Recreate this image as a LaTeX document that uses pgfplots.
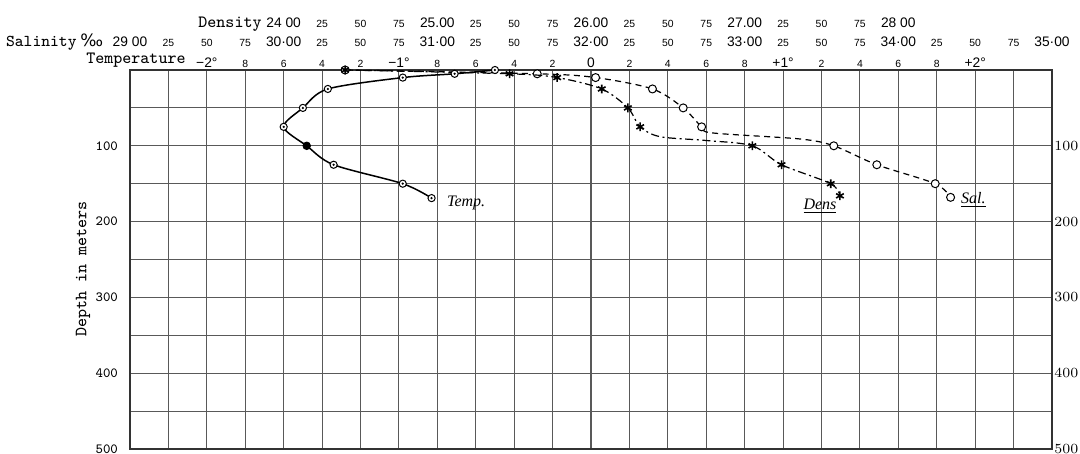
\documentclass[border=0pt]{standalone}
\usepackage{fontspec}
\setmainfont{Liberation Sans}
\newfontfamily\pmfont{DejaVu Sans}
\newfontfamily\hand{Liberation Serif}
\usepackage{pgfplots}
\pgfplotsset{compat=1.18}

% circle with a dot in it (temperature readings)
\pgfdeclareplotmark{odot}{%
  \pgfpathcircle{\pgfpointorigin}{\pgfplotmarksize}%
  \pgfsetfillcolor{white}\pgfusepathqfillstroke
  \pgfpathcircle{\pgfpointorigin}{0.35\pgfplotmarksize}%
  \pgfsetfillcolor{black}\pgfusepathqfill}

\newcommand\sm{\fontsize{5.2}{6}\selectfont}
\newcommand\bg[1]{{\fontsize{6.9}{7}\selectfont #1}}
\newcommand\tw{\ttfamily\fontsize{8.6}{10}\selectfont}

\pgfplotsset{
  base/.style={width=461pt, height=189.5pt, scale only axis,
    ymin=0, ymax=500, y dir=reverse, major tick length=0pt, clip=false},
}

\begin{document}
\begin{tikzpicture}
% salinity axis: carries the grid
\begin{axis}[base, name=sal,
  xmin=29, xmax=35,
  xtick={29,29.25,...,35},
  ytick={0,50,...,500},
  grid=major, grid style={black!65, line width=0.55pt},
  axis line style={black!80, line width=0.75pt},
  xticklabel pos=upper,
  xticklabels={\bg{29 00},25,50,75,\bg{30·00},25,50,75,\bg{31·00},25,50,75,\bg{32·00},25,50,75,\bg{33·00},25,50,75,\bg{34·00},25,50,75,\bg{35·00}},
  xticklabel style={anchor=base, yshift=11.5pt, font=\sm},
  yticklabels={,,100,,200,,300,,400,,500},
  yticklabel style={font=\ttfamily\fontsize{7}{8}\selectfont, xshift=-2.5pt},
]
\addplot[black, line width=0.6pt, dash pattern=on 3pt off 2.2pt, smooth, tension=0.5,
  mark=*, mark size=2pt, mark options={solid, fill=white, line width=0.5pt},
  mark indices={1,2,3,4,5,6,9,10,11,12}] coordinates {
  (30.40,0)(31.65,5)(32.03,10)(32.40,25)(32.60,50)(32.72,75)
  (32.79,83)(33.36,91)(33.58,100)(33.86,125)(34.24,150)(34.34,168)
};
\end{axis}

% density axis: top row of labels and right-hand depth labels
\begin{axis}[base, at={(sal.south west)}, anchor=south west,
  xmin=23, xmax=29,
  axis line style={draw=none},
  xtick={24,24.25,...,28},
  xticklabel pos=upper,
  xticklabels={\bg{24 00},25,50,75,\bg{25.00},25,50,75,\bg{26.00},25,50,75,\bg{27.00},25,50,75,\bg{28 00}},
  xticklabel style={anchor=base, yshift=21pt, font=\sm},
  ytick={100,200,...,500},
  yticklabel pos=right,
  yticklabel style={font=\ttfamily\fontsize{6.7}{8}\selectfont, inner sep=1pt},
]
\addplot[black, line width=0.6pt, dash pattern=on 4pt off 1.8pt on 1pt off 1.8pt, smooth, tension=0.5,
  mark=asterisk, mark size=2.2pt, mark options={solid, line width=0.8pt},
  mark indices={1,2,3,4,5,6,9,10,11,12}] coordinates {
  (24.40,0)(25.47,5)(25.78,10)(26.07,25)(26.24,50)(26.32,75)
  (26.45,88)(26.75,93)(27.05,100)(27.24,125)(27.56,150)(27.62,166)
};
\end{axis}

% temperature axis
\begin{axis}[base, at={(sal.south west)}, anchor=south west,
  xmin=-2.4, xmax=2.4,
  axis line style={draw=none},
  xtick={-2,-1.8,-1.6,-1.4,-1.2,-1,-0.8,-0.6,-0.4,-0.2,0,0.2,0.4,0.6,0.8,1,1.2,1.4,1.6,1.8,2},
  xticklabel pos=upper,
  xticklabels={\bg{−2°},8,6,4,2,\bg{−1°},8,6,4,2,\bg{0},2,4,6,8,\bg{+1°},2,4,6,8,\bg{+2°}},
  xticklabel style={anchor=base, yshift=1.5pt, font=\sm},
  ytick=\empty,
]
\addplot[black, line width=0.75pt, smooth, tension=0.5,
  mark=odot, mark size=1.8pt, mark options={line width=0.5pt},
  mark indices={1,2,3,4,5,6,8,9,10}] coordinates {
  (-0.50,0)(-0.71,5)(-0.98,10)(-1.37,25)(-1.50,50)(-1.60,75)
  (-1.48,100)(-1.34,125)(-0.98,150)(-0.83,169)
};
\addplot[only marks, mark=*, mark size=1.9pt, black] coordinates {(-1.48,100)};
\end{axis}

% axis titles
\node[anchor=base east, font=\tw, inner sep=0pt] at ([shift={(66pt,21pt)}]sal.north west) {Density};
\node[anchor=base east, font=\ttfamily\fontsize{8.3}{10}\selectfont, inner sep=0pt] at ([shift={(-26.5pt,11.5pt)}]sal.north west) {Salinity};
\node[anchor=base west, font=\pmfont\fontsize{8.5}{9}\selectfont, inner sep=0pt] at ([shift={(-25pt,11.8pt)}]sal.north west) {‰};
\node[anchor=base east, font=\tw, inner sep=0pt] at ([shift={(28pt,3pt)}]sal.north west) {Temperature};
\node[rotate=90, font=\tw] at ([shift={(-23.5pt,-99.5pt)}]sal.north west) {Depth in meters};

% curve names
\node[anchor=west, font=\hand\itshape\fontsize{8}{9}\selectfont] at ([shift={(155pt,-66.5pt)}]sal.north west) {Temp.};
\node[font=\hand\itshape\fontsize{8}{9}\selectfont] at ([shift={(345pt,-68pt)}]sal.north west) {\underline{Dens}};
\node[anchor=west, font=\hand\itshape\fontsize{8}{9}\selectfont] at ([shift={(412pt,-65pt)}]sal.north west) {\underline{Sal.}};

\pgfresetboundingbox
\path ([shift={(-65pt,-2.5pt)}]sal.south west) rectangle ([shift={(14pt,35pt)}]sal.north east);
\end{tikzpicture}
\end{document}
